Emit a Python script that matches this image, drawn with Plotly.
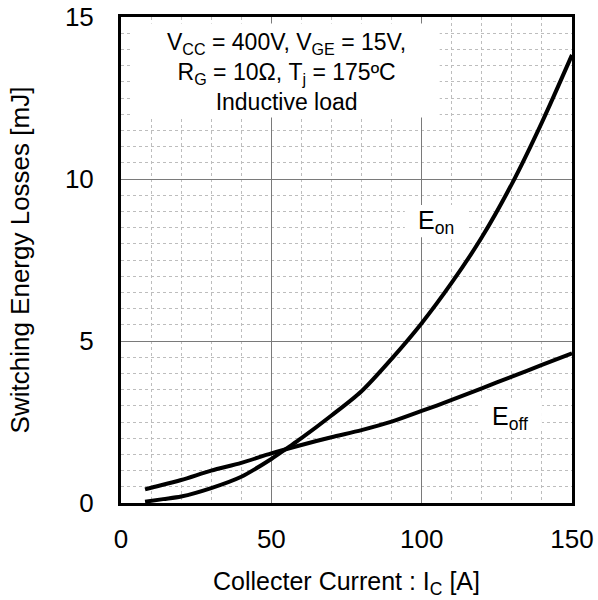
import plotly.graph_objects as go

current_on = [8, 14, 20, 30, 40, 50, 56, 60, 70, 80, 90, 100, 110, 120, 130, 140, 150]
energy_on = [0.04, 0.12, 0.2, 0.46, 0.81, 1.36, 1.74, 2.0, 2.7, 3.45, 4.45, 5.55, 6.8, 8.2, 9.85, 11.75, 13.83]

current_off = [8, 10, 20, 30, 40, 50, 60, 70, 80, 90, 100, 110, 120, 130, 140, 150]
energy_off = [0.42, 0.47, 0.71, 1.0, 1.24, 1.53, 1.79, 2.03, 2.25, 2.51, 2.84, 3.18, 3.54, 3.9, 4.26, 4.62]

x_ticks = [0, 50, 100, 150]
y_ticks = [0, 5, 10, 15]

cond_text = ("V<sub>CC</sub> = 400V, V<sub>GE</sub> = 15V,<br>"
             "R<sub>G</sub> = 10Ω, T<sub>j</sub> = 175ºC<br>"
             "Inductive load")

FONT = "Arial, Liberation Sans, sans-serif"

fig = go.Figure()
fig.add_trace(go.Scatter(x=current_on, y=energy_on, mode="lines", name="Eon",
                         line=dict(color="black", width=4, shape="spline", smoothing=0.8)))
fig.add_trace(go.Scatter(x=current_off, y=energy_off, mode="lines", name="Eoff",
                         line=dict(color="black", width=4, shape="spline", smoothing=0.8)))

# white patches behind the text, covering the grid
for x0, x1, y0, y1 in [(3.3, 106, 11.9, 14.8), (94.4, 115, 8.2, 9.2), (119.4, 140, 2.25, 3.18)]:
    fig.add_shape(type="rect", x0=x0, x1=x1, y0=y0, y1=y1, xref="x", yref="y",
                  fillcolor="white", line_width=0, layer="between")

fig.add_annotation(x=55.2, y=13.3, text=cond_text, showarrow=False,
                   font=dict(size=23, color="black", family=FONT))
fig.add_annotation(x=104.8, y=8.67, text="E<sub>on</sub>", showarrow=False,
                   font=dict(size=25, color="black", family=FONT))
fig.add_annotation(x=129.4, y=2.62, text="E<sub>off</sub>", showarrow=False,
                   font=dict(size=25, color="black", family=FONT))

axis_common = dict(
    showline=True, linewidth=3, linecolor="black", mirror=True,
    showgrid=True, gridcolor="#7a7a7a", gridwidth=1,
    ticks="", zeroline=False, automargin=False,
    tickfont=dict(size=26, color="black", family=FONT),
)

fig.update_xaxes(range=[0, 150], tickvals=x_ticks, ticklabelstandoff=11,
                 minor=dict(dtick=10, showgrid=True, gridcolor="#bdbdbd", griddash="dot", gridwidth=1),
                 title=dict(text="Collecter Current : I<sub>C</sub> [A]", standoff=20,
                            font=dict(size=25, color="black", family=FONT)),
                 **axis_common)
fig.update_yaxes(range=[0, 15], tickvals=y_ticks, ticklabelstandoff=19,
                 minor=dict(dtick=0.5, showgrid=True, gridcolor="#bdbdbd", griddash="dot", gridwidth=1),
                 title=dict(text="Switching Energy Losses [mJ]", standoff=28,
                            font=dict(size=26, color="black", family=FONT)),
                 **axis_common)

fig.update_layout(
    width=598, height=600,
    margin=dict(l=121, r=26, t=17, b=97),
    plot_bgcolor="white", paper_bgcolor="white",
    showlegend=False,
    font=dict(family=FONT, color="black"),
)

# drop the default page margin so the figure sits at the window's corner
fig.write_html("out.html", config={"displayModeBar": False},
               post_script="document.body.style.margin = '0';")
